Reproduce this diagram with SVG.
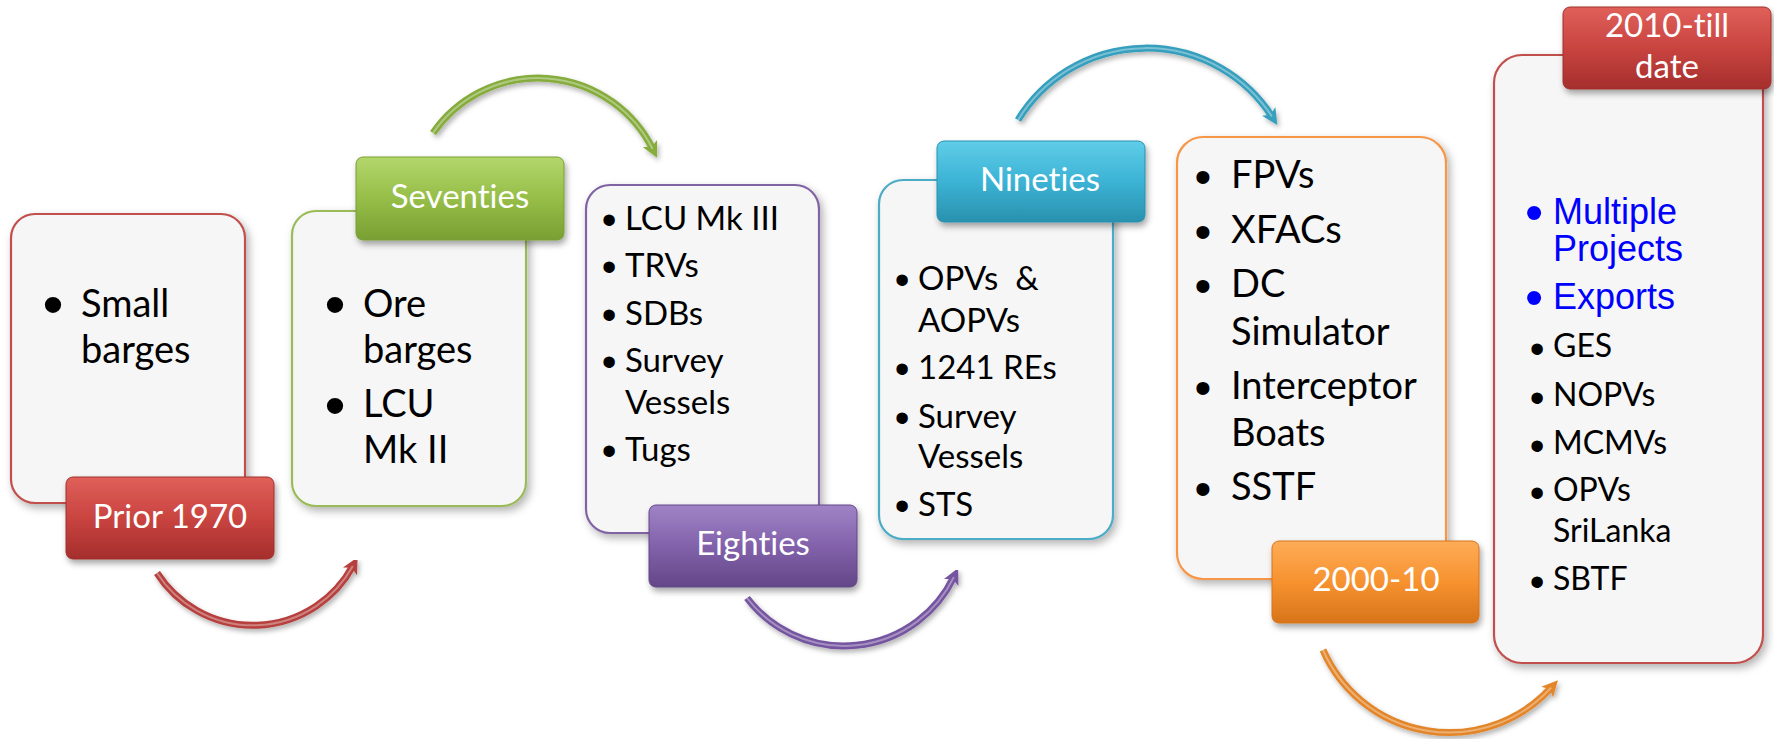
<svg xmlns="http://www.w3.org/2000/svg" width="1774" height="739" viewBox="0 0 1774 739">
<style>
text{font-variant-ligatures:none;font-feature-settings:"liga" 0,"clig" 0}
.box{fill:#f6f6f6;stroke-width:2.2;filter:url(#shadow)}
.lbl{filter:url(#lshadow)}
.lt{font-family:"Lato","Liberation Sans",sans-serif;font-size:33px;fill:#ffffff;text-anchor:middle}
.t38{font-family:"Lato","Liberation Sans",sans-serif;font-size:38px;fill:#000}
.t33{font-family:"Lato","Liberation Sans",sans-serif;font-size:33px;fill:#000}
.t32{font-family:"Lato","Liberation Sans",sans-serif;font-size:32px;fill:#000}
.tb{font-family:"Liberation Sans",Arial,sans-serif;font-size:36px;fill:#0000ff}
.bu{font-family:"Liberation Sans",Arial,sans-serif;fill:#000;text-anchor:middle}
.s60{font-size:60px}
.s52{font-size:52px}
.s48{font-size:48px}
.s42{font-size:42px}
.bb{fill:#0000ff}
.arc{fill:none;stroke-width:7;stroke-linecap:butt;filter:url(#ashadow)}
.hl{fill:none;stroke-width:2;stroke:#ffffff;stroke-opacity:0.35}
</style>
<defs>
<filter id="shadow" x="-10%" y="-10%" width="125%" height="125%">
<feDropShadow dx="3" dy="4" stdDeviation="4" flood-color="#000" flood-opacity="0.3"/>
</filter>
<filter id="lshadow" x="-10%" y="-15%" width="125%" height="140%">
<feDropShadow dx="2" dy="4" stdDeviation="3" flood-color="#000" flood-opacity="0.35"/>
</filter>
<filter id="ashadow" x="-10%" y="-10%" width="125%" height="130%">
<feDropShadow dx="2" dy="3" stdDeviation="2.5" flood-color="#000" flood-opacity="0.3"/>
</filter>
<linearGradient id="gRed" x1="0" y1="0" x2="0" y2="1">
<stop offset="0" stop-color="#e0605a"/><stop offset="0.5" stop-color="#c94440"/><stop offset="1" stop-color="#a52e2c"/>
</linearGradient>
<linearGradient id="gGreen" x1="0" y1="0" x2="0" y2="1">
<stop offset="0" stop-color="#b3d66c"/><stop offset="0.5" stop-color="#96be48"/><stop offset="1" stop-color="#789f33"/>
</linearGradient>
<linearGradient id="gPurple" x1="0" y1="0" x2="0" y2="1">
<stop offset="0" stop-color="#a083c6"/><stop offset="0.5" stop-color="#8262ab"/><stop offset="1" stop-color="#634687"/>
</linearGradient>
<linearGradient id="gAqua" x1="0" y1="0" x2="0" y2="1">
<stop offset="0" stop-color="#5fcde8"/><stop offset="0.5" stop-color="#3cb3d5"/><stop offset="1" stop-color="#2991ae"/>
</linearGradient>
<linearGradient id="gOrange" x1="0" y1="0" x2="0" y2="1">
<stop offset="0" stop-color="#fdac58"/><stop offset="0.5" stop-color="#f7922f"/><stop offset="1" stop-color="#d7741b"/>
</linearGradient>
<marker id="mRed" viewBox="0 0 16 16" refX="6" refY="8" markerWidth="16" markerHeight="16" markerUnits="userSpaceOnUse" orient="auto"><path d="M0,0 L16,8 L0,16 L4,8 Z" fill="#b5403c"/></marker>
<marker id="mGreen" viewBox="0 0 16 16" refX="6" refY="8" markerWidth="16" markerHeight="16" markerUnits="userSpaceOnUse" orient="auto"><path d="M0,0 L16,8 L0,16 L4,8 Z" fill="#86ac3c"/></marker>
<marker id="mPurple" viewBox="0 0 16 16" refX="6" refY="8" markerWidth="16" markerHeight="16" markerUnits="userSpaceOnUse" orient="auto"><path d="M0,0 L16,8 L0,16 L4,8 Z" fill="#7555a0"/></marker>
<marker id="mAqua" viewBox="0 0 16 16" refX="6" refY="8" markerWidth="16" markerHeight="16" markerUnits="userSpaceOnUse" orient="auto"><path d="M0,0 L16,8 L0,16 L4,8 Z" fill="#349fbd"/></marker>
<marker id="mOrange" viewBox="0 0 16 16" refX="6" refY="8" markerWidth="16" markerHeight="16" markerUnits="userSpaceOnUse" orient="auto"><path d="M0,0 L16,8 L0,16 L4,8 Z" fill="#e3862c"/></marker>
</defs>
<rect width="1774" height="739" fill="#ffffff"/>

<g id="connectors">
<path class="arc" d="M157,573 A114,114 0 0 0 352.8,566.1" stroke="#b5403c" marker-end="url(#mRed)"/>
<path class="arc" d="M433,133 A128,128 0 0 1 652.6,148.9" stroke="#86ac3c" marker-end="url(#mGreen)"/>
<path class="arc" d="M747,598 A122,122 0 0 0 953.8,577.1" stroke="#7555a0" marker-end="url(#mPurple)"/>
<path class="arc" d="M1018,120 A150,150 0 0 1 1271.9,116.5" stroke="#349fbd" marker-end="url(#mAqua)"/>
<path class="arc" d="M1323,650 A138,138 0 0 0 1551.2,687.7" stroke="#e3862c" marker-end="url(#mOrange)"/>
<path class="hl" d="M157,573 A114,114 0 0 0 352.8,566.1"/>
<path class="hl" d="M433,133 A128,128 0 0 1 652.6,148.9"/>
<path class="hl" d="M747,598 A122,122 0 0 0 953.8,577.1"/>
<path class="hl" d="M1018,120 A150,150 0 0 1 1271.9,116.5"/>
<path class="hl" d="M1323,650 A138,138 0 0 0 1551.2,687.7"/>
</g>

<g id="node-prior1970">
<rect class="box" x="11" y="214" width="234" height="289" rx="24" stroke="#c0504d"/>
<text class="bu s60" x="53" y="325">•</text>
<text class="t38" x="81" y="317">Small</text>
<text class="t38" x="81" y="363">barges</text>
<rect class="lbl" x="66" y="477" width="208" height="82" rx="7" fill="url(#gRed)" stroke="#a0302d" stroke-width="1"/>
<text class="lt" x="170" y="528">Prior 1970</text>
</g>

<g id="node-seventies">
<rect class="box" x="292" y="211" width="234" height="295" rx="24" stroke="#9bbb59"/>
<text class="bu s60" x="335" y="325">•</text>
<text class="t38" x="363" y="317">Ore</text>
<text class="t38" x="363" y="363">barges</text>
<text class="bu s60" x="335" y="426">•</text>
<text class="t38" x="363" y="417">LCU</text>
<text class="t38" x="363" y="463">Mk II</text>
<rect class="lbl" x="356" y="157" width="208" height="83" rx="7" fill="url(#gGreen)" stroke="#789f33" stroke-width="1"/>
<text class="lt" x="460" y="208">Seventies</text>
</g>

<g id="node-eighties">
<rect class="box" x="586" y="185" width="233" height="348" rx="24" stroke="#8064a2"/>
<text class="bu s42" x="609" y="233.5">•</text>
<text class="t33" x="625" y="230">LCU Mk III</text>
<text class="bu s42" x="609" y="280.5">•</text>
<text class="t33" x="625" y="277">TRVs</text>
<text class="bu s42" x="609" y="328.5">•</text>
<text class="t33" x="625" y="325">SDBs</text>
<text class="bu s42" x="609" y="375.5">•</text>
<text class="t33" x="625" y="372">Survey</text>
<text class="t33" x="625" y="414">Vessels</text>
<text class="bu s42" x="609" y="464.5">•</text>
<text class="t33" x="625" y="461">Tugs</text>
<rect class="lbl" x="649" y="505" width="208" height="82" rx="7" fill="url(#gPurple)" stroke="#634687" stroke-width="1"/>
<text class="lt" x="753" y="555">Eighties</text>
</g>

<g id="node-nineties">
<rect class="box" x="879" y="180" width="234" height="359" rx="24" stroke="#4bacc6"/>
<text class="bu s42" x="902" y="293.5">•</text>
<text class="t33" x="918" y="290" xml:space="preserve" style="white-space:pre">OPVs  &amp;</text>
<text class="t33" x="918" y="332">AOPVs</text>
<text class="bu s42" x="902" y="382.5">•</text>
<text class="t33" x="918" y="379">1241 REs</text>
<text class="bu s42" x="902" y="431.5">•</text>
<text class="t33" x="918" y="428">Survey</text>
<text class="t33" x="918" y="468">Vessels</text>
<text class="bu s42" x="902" y="519.5">•</text>
<text class="t33" x="918" y="516">STS</text>
<rect class="lbl" x="937" y="141" width="208" height="81" rx="7" fill="url(#gAqua)" stroke="#2991ae" stroke-width="1"/>
<text class="lt" x="1040" y="191">Nineties</text>
</g>

<g id="node-2000-10">
<rect class="box" x="1177" y="137" width="269" height="442" rx="26" stroke="#f79646"/>
<text class="bu s48" x="1203" y="193">•</text>
<text class="t38" x="1231" y="188">FPVs</text>
<text class="bu s48" x="1203" y="248">•</text>
<text class="t38" x="1231" y="243">XFACs</text>
<text class="bu s48" x="1203" y="302">•</text>
<text class="t38" x="1231" y="297">DC</text>
<text class="t38" x="1231" y="345">Simulator</text>
<text class="bu s48" x="1203" y="404">•</text>
<text class="t38" x="1231" y="399">Interceptor</text>
<text class="t38" x="1231" y="446">Boats</text>
<text class="bu s48" x="1203" y="505">•</text>
<text class="t38" x="1231" y="500">SSTF</text>
<rect class="lbl" x="1272" y="541" width="207" height="82" rx="7" fill="url(#gOrange)" stroke="#d7741b" stroke-width="1"/>
<text class="lt" x="1376" y="591">2000-10</text>
</g>

<g id="node-2010-till-date">
<rect class="box" x="1494" y="55" width="269" height="608" rx="28" stroke="#c0504d"/>
<text class="bu s52 bb" x="1534" y="230">•</text>
<text class="tb" x="1553" y="224">Multiple</text>
<text class="tb" x="1553" y="261">Projects</text>
<text class="bu s52 bb" x="1534" y="315">•</text>
<text class="tb" x="1553" y="309">Exports</text>
<text class="bu s42" x="1537" y="362.5">•</text>
<text class="t32" x="1553" y="357">GES</text>
<text class="bu s42" x="1537" y="411.5">•</text>
<text class="t32" x="1553" y="406">NOPVs</text>
<text class="bu s42" x="1537" y="459.5">•</text>
<text class="t32" x="1553" y="454">MCMVs</text>
<text class="bu s42" x="1537" y="506.5">•</text>
<text class="t32" x="1553" y="501">OPVs</text>
<text class="t32" x="1553" y="542">SriLanka</text>
<text class="bu s42" x="1537" y="595.5">•</text>
<text class="t32" x="1553" y="590">SBTF</text>
<rect class="lbl" x="1563" y="7" width="208" height="82" rx="7" fill="url(#gRed)" stroke="#a0302d" stroke-width="1"/>
<text class="lt" x="1667" y="37">2010-till</text>
<text class="lt" x="1667" y="78">date</text>
</g>
</svg>
